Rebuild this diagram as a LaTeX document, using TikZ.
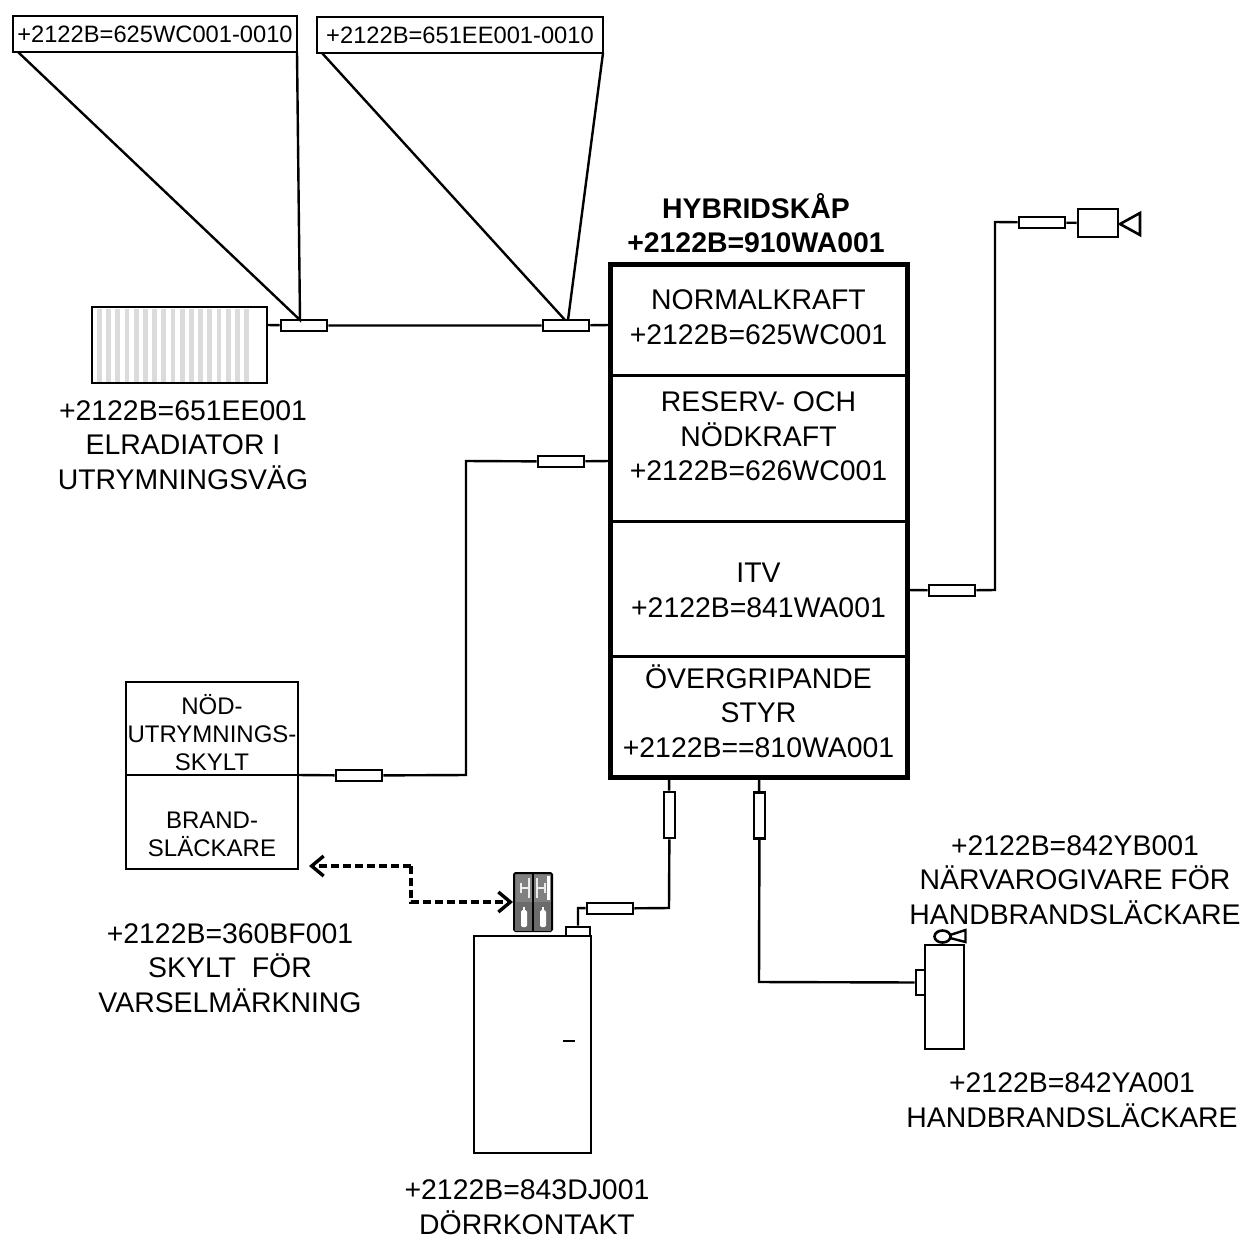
\documentclass[tikz,border=0pt]{standalone}
\usepackage{fontspec}
\setmainfont{Liberation Sans}
\usetikzlibrary{arrows.meta,shapes.geometric}
\tikzset{
  wire/.style={line width=2.4pt,line join=miter},
  cable/.style={draw,line width=2.8pt,fill=white,inner sep=0pt,minimum width=46pt,minimum height=11pt},
  vcable/.style={draw,line width=2.8pt,fill=white,inner sep=0pt,minimum width=11pt,minimum height=46pt},
  txt/.style={align=center,inner sep=0pt,font=\fontsize{28.4}{34.5}\selectfont},
  smalltxt/.style={align=center,inner sep=0pt,font=\fontsize{24}{28}\selectfont},
  outline/.style={draw,line width=2.6pt,fill=white,inner sep=0pt},
  divider/.style={line width=3pt},
  dashedarrow/.style={line width=3.4pt,dashed,dash pattern=on 8pt off 4pt,-{Straight Barb[length=12pt,width=20pt,line width=3.4pt]}}
}
\begin{document}
\begin{tikzpicture}[x=1pt,y=-1pt]
\useasboundingbox (0,0) rectangle (1246,1237);
% top labels
\node[outline,minimum width=284pt,minimum height=36pt,font=\fontsize{23.7}{28}\selectfont] (tagA) at (155,34) {+2122B=625WC001-0010};
\node[outline,minimum width=286pt,minimum height=36pt,font=\fontsize{23.7}{28}\selectfont] (tagB) at (460,35) {+2122B=651EE001-0010};
% radiator
\node[outline,minimum width=175pt,minimum height=76pt] (rad) at (179.5,345) {};
\foreach \i in {0,...,16} \fill[gray!28] (97+\i*9.2,308.5) rectangle ++(4.7,73);
\node[draw,line width=2.6pt,inner sep=0pt,minimum width=175pt,minimum height=76pt] (radframe) at (rad.center) {};
% main cabinet
\node[draw,line width=5pt,fill=white,inner sep=0pt,minimum width=297pt,minimum height=513pt] (cab) at (758.5,520.5) {};
\coordinate (d1l) at (610,375); \coordinate (d1r) at (907,375);
\coordinate (d2l) at (610,521); \coordinate (d2r) at (907,521);
\coordinate (d3l) at (610,656); \coordinate (d3r) at (907,656);
\draw[divider] (d1l) -- (d1r);
\draw[divider] (d2l) -- (d2r);
\draw[divider] (d3l) -- (d3r);
\node[txt] (s1) at (758.5,317) {NORMALKRAFT\\+2122B=625WC001};
\node[txt] (s2) at (758.5,436.5) {RESERV- OCH\\NÖDKRAFT\\+2122B=626WC001};
\node[txt] (s3) at (758.5,590.5) {ITV\\+2122B=841WA001};
\node[txt] (s4) at (758.5,711) {ÖVERGRIPANDE\\STYR\\+2122B==810WA001};
\node[txt,font=\bfseries\fontsize{28.4}{34.5}\selectfont] (title) at (756,223) {HYBRIDSKÅP\\+2122B=910WA001};
% junction coordinates on the cabinet
\coordinate (p1) at (610,325);
\coordinate (p2) at (610,461);
\coordinate (p3) at (907,590);
\coordinate (p4) at (669,777);
\coordinate (p5) at (759,777);
% cables, top row
\coordinate (r1) at (267,325);
\node[cable] (c1) at (304,325.5) {};
\node[cable] (c2) at (566,325.5) {};
\draw[wire] (r1) -- (c1) (c1) -- (c2) (c2) -- (p1);
\coordinate (tA1) at (18,52); \coordinate (tA2) at (297,52);
\coordinate (tB1) at (322,53); \coordinate (tB2) at (603,53);
\coordinate (c1t) at (300,320); \coordinate (c2t) at (565,320); \coordinate (c2u) at (568,320);
\draw[wire] (tA1) -- (c1t) -- (tA2);
\draw[wire] (tB1) -- (c2t);
\draw[wire] (tB2) -- (c2u);
% signage box
\node[outline,minimum width=172pt,minimum height=187pt] (sb) at (212,775.5) {};
\coordinate (sbl) at (126,775); \coordinate (sbr) at (298,775);
\draw[wire] (sbl) -- (sbr);
\node[smalltxt] (sb1) at (212,733) {NÖD-\\UTRYMNINGS-\\SKYLT};
\node[smalltxt] (sb2) at (212,834) {BRAND-\\SLÄCKARE};
\node[cable] (c3) at (359,775.5) {};
\node[cable] (c4) at (561,461.5) {};
\coordinate (k1) at (466,775); \coordinate (k2) at (466,461);
\draw[wire] (sbr) -- (c3) (c3) -- (k1) -- (k2) -- (c4) (c4) -- (p2);
% camera
\node[cable] (c5) at (952,590.5) {};
\node[cable] (c6) at (1042,222.5) {};
\node[outline,minimum width=40pt,minimum height=28pt] (cam) at (1098,223) {};
\coordinate (k3) at (995,590); \coordinate (k4) at (995,222);
\draw[wire] (p3) -- (c5) (c5) -- (k3) -- (k4) -- (c6) (c6) -- (cam);
\coordinate (t1) at (1120,224); \coordinate (t2) at (1140,213); \coordinate (t3) at (1140,235);
\draw[line width=2.6pt,line join=miter] (t1) -- (t2) -- (t3) -- cycle;
% door
\node[outline,minimum width=117pt,minimum height=217pt] (door) at (532.5,1044.5) {};
\coordinate (h1) at (563,1041); \coordinate (h2) at (575,1041);
\draw[wire] (h1) -- (h2);
\node[outline,minimum width=24pt,minimum height=9pt] (dc) at (578,931.5) {};
\node[vcable] (c7) at (669.5,815) {};
\node[cable] (c8) at (610,908.5) {};
\coordinate (k5) at (669,908); \coordinate (k6) at (578,908);
\draw[wire] (p4) -- (c7) (c7) -- (k5) -- (c8) (c8) -- (k6) -- (dc);
% extinguisher
\node[outline,minimum width=39pt,minimum height=104pt] (ext) at (944.5,997) {};
\node[outline,minimum width=9pt,minimum height=25pt] (btn) at (920.5,982.5) {};
\node[vcable] (c9) at (759.5,815.5) {};
\coordinate (k7) at (759,982);
\draw[wire] (p5) -- (c9) (c9) -- (k7) -- (btn);
\node[draw,line width=2.6pt,ellipse,inner sep=0pt,minimum width=16pt,minimum height=12pt,fill=white] (sens) at (942.5,936.5) {};
\coordinate (h3) at (950,935); \coordinate (h4) at (965.5,930); \coordinate (h5) at (965.5,942); \coordinate (h6) at (950,938);
\draw[line width=2.4pt,line join=miter] (h3) -- (h4) -- (h5) -- (h6);
% sign
\node[draw,line width=2pt,fill=gray,rounded corners=1.5pt,inner sep=0pt,minimum width=38pt,minimum height=58pt] (sign) at (533,902) {};
\coordinate (st) at (533,873); \coordinate (sbm) at (533,931);
\fill[black!58] (515,902) rectangle (551,931);
\draw[line width=2pt] (st) -- (sbm);
\foreach \xx in {521,540} {
  \fill[white,rounded corners=1.5pt] (\xx,927) rectangle ++(6,-17);
  \fill[white] (\xx+2,910) rectangle ++(2,-3);
}
\fill[white!85!gray] (520,887) rectangle ++(10,2);
\fill[white!85!gray] (528,878) rectangle ++(2,20);
\fill[white!85!gray] (520,883) rectangle ++(2,10);
\fill[white!85!gray] (536,887) rectangle ++(10,2);
\fill[white!85!gray] (536,878) rectangle ++(2,20);
\fill[white!85!gray] (544,883) rectangle ++(2,10);
\fill[white] (547,876) rectangle ++(3,24);
% dashed arrows
\coordinate (a0) at (411,866); \coordinate (a1) at (309,866); \coordinate (a2) at (411,902);
\draw[dashedarrow] (a0) -- (a1);
\draw[dashedarrow] (a0) -- (a2) -- (sign.west);
% labels
\node[txt] (l1) at (183,445) {+2122B=651EE001\\ELRADIATOR I\\UTRYMNINGSVÄG};
\node[txt] (l2) at (230,968) {+2122B=360BF001\\SKYLT\ \ FÖR\\VARSELMÄRKNING};
\node[txt] (l3) at (1075,880) {+2122B=842YB001\\NÄRVAROGIVARE FÖR\\HANDBRANDSLÄCKARE};
\node[txt] (l4) at (1072,1100) {+2122B=842YA001\\HANDBRANDSLÄCKARE};
\node[txt] (l5) at (527,1207) {+2122B=843DJ001\\DÖRRKONTAKT};
\end{tikzpicture}
\end{document}
